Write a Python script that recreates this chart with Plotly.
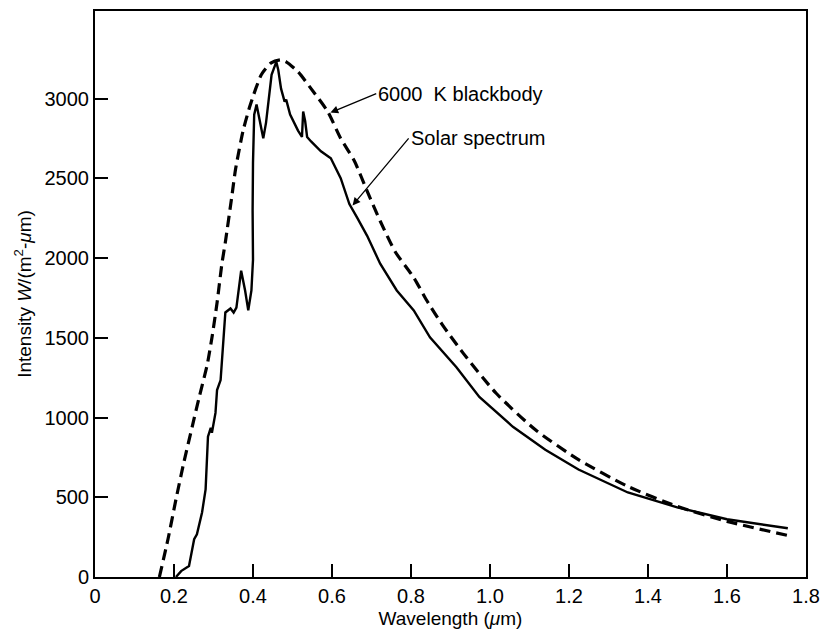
import plotly.graph_objects as go

# 6000 K blackbody curve (dashed)
bb_wavelength = [0.163, 0.185, 0.205, 0.225, 0.246, 0.265, 0.284, 0.296, 0.309, 0.321,
                 0.33, 0.346, 0.356, 0.375, 0.393, 0.421, 0.446, 0.47, 0.484, 0.514,
                 0.547, 0.589, 0.622, 0.657, 0.689, 0.722, 0.76, 0.807, 0.84, 0.88,
                 0.932, 1.015, 1.115, 1.224, 1.349, 1.474, 1.6, 1.762]
bb_intensity = [0, 240, 487, 720, 942, 1140, 1330, 1500, 1720, 1960,
                2100, 2380, 2560, 2800, 2960, 3150, 3225, 3244, 3231, 3169,
                3063, 2920, 2751, 2608, 2420, 2233, 2040, 1878, 1734, 1580,
                1404, 1154, 923, 736, 568, 443, 349, 256]

# Solar spectrum (solid)
sol_wavelength = [0.205, 0.218, 0.238, 0.251, 0.258, 0.271, 0.28, 0.283, 0.286, 0.293,
                  0.296, 0.305, 0.309, 0.318, 0.326, 0.33, 0.343, 0.351, 0.358, 0.37,
                  0.38, 0.388, 0.396, 0.400, 0.399, 0.400, 0.403, 0.409, 0.421, 0.426,
                  0.433, 0.447, 0.459, 0.464, 0.471, 0.48, 0.484, 0.494, 0.514, 0.524,
                  0.527, 0.532, 0.537, 0.547, 0.572, 0.597, 0.622, 0.644, 0.664, 0.689,
                  0.722, 0.764, 0.807, 0.848, 0.915, 0.973, 1.058, 1.14, 1.224, 1.349,
                  1.474, 1.6, 1.754]
sol_intensity = [0, 37, 69, 237, 268, 405, 549, 717, 880, 936,
                 905, 1029, 1173, 1235, 1485, 1659, 1684, 1659, 1690, 1921,
                 1797, 1672, 1797, 1990, 2300, 2600, 2900, 2963, 2813, 2751,
                 2850, 3150, 3231, 3180, 3063, 2982, 2994, 2900, 2800, 2760,
                 2920, 2860, 2760, 2732, 2670, 2626, 2502, 2339, 2252, 2140,
                 1965, 1797, 1672, 1503, 1316, 1129, 942, 798, 674, 530,
                 437, 362, 306]

x_ticks = [0, 0.2, 0.4, 0.6, 0.8, 1.0, 1.2, 1.4, 1.6, 1.8]
x_tick_labels = ["0", "0.2", "0.4", "0.6", "0.8", "1.0", "1.2", "1.4", "1.6", "1.8"]
y_ticks = [0, 500, 1000, 1500, 2000, 2500, 3000]
y_tick_labels = ["0", "500", "1000", "1500", "2000", "2500", "3000"]

FONT = "Liberation Sans, Arial, Helvetica, sans-serif"

fig = go.Figure()
fig.add_trace(go.Scatter(x=bb_wavelength, y=bb_intensity, mode="lines",
                         line=dict(color="black", width=3.2, dash="11px,6px", shape="spline", smoothing=0.6),
                         showlegend=False))
fig.add_trace(go.Scatter(x=sol_wavelength, y=sol_intensity, mode="lines",
                         line=dict(color="black", width=2.4),
                         showlegend=False))

annotations = [
    dict(x=0.596, y=2913, ax=0.712, ay=3032, text="6000  K blackbody"),
    dict(x=0.652, y=2330, ax=0.794, ay=2751, text="Solar spectrum"),
]
for a in annotations:
    a.update(xref="x", yref="y", axref="x", ayref="y",
             xanchor="left", yanchor="middle",
             showarrow=True, arrowhead=2, arrowsize=1.2, arrowwidth=1.3, arrowcolor="black",
             font=dict(family=FONT, size=20, color="black"))

fig.update_layout(
    width=829, height=635,
    margin=dict(l=95, r=16, t=9, b=57),
    paper_bgcolor="white", plot_bgcolor="white",
    font=dict(family=FONT, size=20, color="black"),
    annotations=annotations,
    xaxis=dict(range=[0, 1.8], tickvals=x_ticks, ticktext=x_tick_labels,
               ticks="inside", ticklen=13, tickwidth=2, tickcolor="black",
               showline=True, linecolor="black", linewidth=2, mirror=True,
               showgrid=False, zeroline=False,
               title=dict(text="Wavelength (<i>μ</i>m)", standoff=6, font=dict(size=19))),
    yaxis=dict(range=[0, 3550], tickvals=y_ticks, ticktext=y_tick_labels,
               ticks="inside", ticklen=13, tickwidth=2, tickcolor="black",
               showline=True, linecolor="black", linewidth=2, mirror=True,
               showgrid=False, zeroline=False,
               title=dict(text="Intensity <i>W</i>/(m<sup>2</sup>-<i>μ</i>m)", standoff=8, font=dict(size=19))),
)

fig.write_html("out.html")
